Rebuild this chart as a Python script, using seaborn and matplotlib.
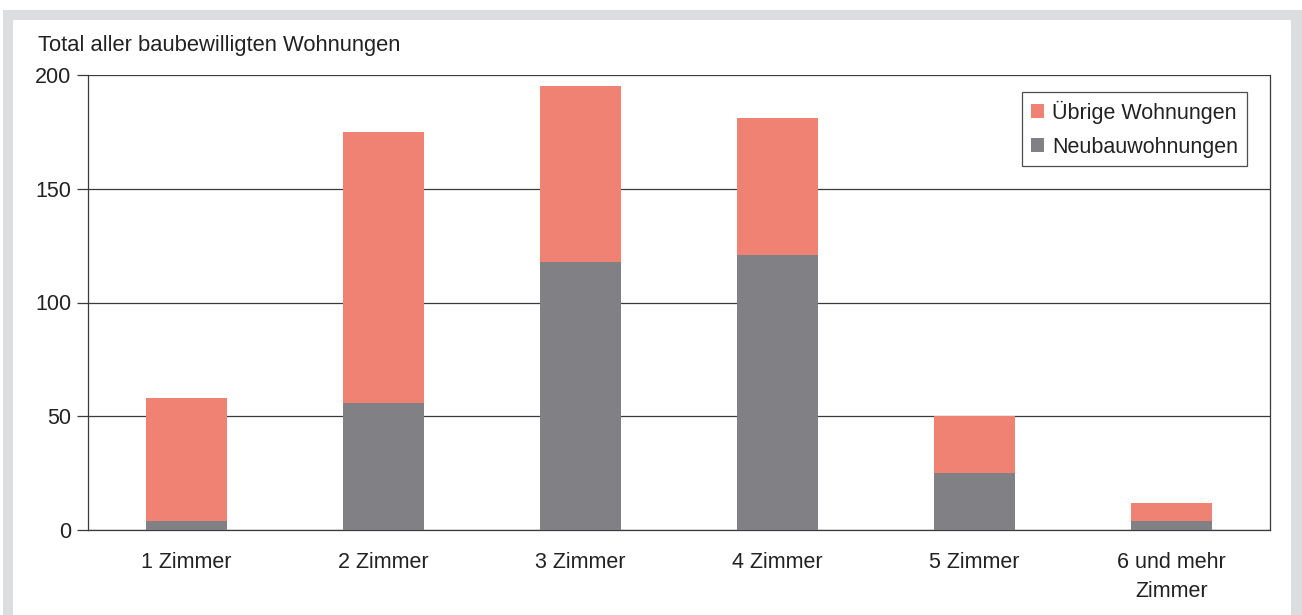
import matplotlib
matplotlib.use("Agg")
import matplotlib.pyplot as plt
import seaborn as sns
import pandas as pd
from matplotlib.patches import Rectangle

categories = ["1 Zimmer", "2 Zimmer", "3 Zimmer", "4 Zimmer", "5 Zimmer", "6 und mehr\nZimmer"]
neubau = [4, 56, 118, 121, 25, 4]
uebrige = [54, 119, 77, 60, 25, 8]
yticks = [0, 50, 100, 150, 200]

totals = [n + u for n, u in zip(neubau, uebrige)]
df = pd.DataFrame({"cat": categories, "neubau": neubau, "total": totals})

sns.set_style("white")
plt.rcParams["font.family"] = ["Liberation Sans", "DejaVu Sans"]

FS = 15.5
W, H = 1302, 615
fig = plt.figure(figsize=(W / 100, H / 100), dpi=100)
fig.patch.set_facecolor("white")
# grey frame
fig.patches.append(Rectangle((3 / W, 0), (W - 3) / W, 1 - 10 / H, transform=fig.transFigure,
                             facecolor="#dcdddf", edgecolor="none", zorder=-20))
fig.patches.append(Rectangle((13 / W, 0), (1291 - 13) / W, 1 - 20 / H, transform=fig.transFigure,
                             facecolor="white", edgecolor="none", zorder=-19))

ax = fig.add_axes([88 / W, 1 - 530 / H, (1270 - 88) / W, (530 - 75) / H])
ax.set_zorder(5)
ax.set_facecolor("white")

c_ueb = "#ef8272"
c_neu = "#818185"
sns.barplot(data=df, x="cat", y="total", color=c_ueb, saturation=1, width=0.41, ax=ax,
            label="Übrige Wohnungen", zorder=3, linewidth=0)
sns.barplot(data=df, x="cat", y="neubau", color=c_neu, saturation=1, width=0.41, ax=ax,
            label="Neubauwohnungen", zorder=3, linewidth=0)

ax.set_xlim(-0.5, 5.5)
ax.set_ylim(0, 200)
ax.set_yticks(yticks)
ax.yaxis.grid(True, color="#3a3a3a", linewidth=0.9, zorder=1)
ax.set_axisbelow(True)
for s in ["top", "right", "left", "bottom"]:
    ax.spines[s].set_visible(True)
    ax.spines[s].set_color("#3a3a3a")
    ax.spines[s].set_linewidth(0.9)
ax.spines["top"].set_visible(False)

ax.set_xticks(range(len(categories)))
ax.set_xticklabels(categories, fontsize=FS, color="#222222", linespacing=1.5)
ax.set_xticks([i - 0.5 for i in range(len(categories) + 1)], minor=True)
ax.tick_params(axis="x", which="major", length=0, pad=16)
ax.tick_params(axis="x", which="minor", length=8, width=0.9, color="#3a3a3a", direction="out")
ax.tick_params(axis="y", which="major", length=8, width=0.9, color="#3a3a3a", direction="out",
               labelsize=FS, labelcolor="#222222", pad=4, left=True)
ax.set_xlabel("")
ax.set_ylabel("")

fig.text(38 / W, 1 - 45 / H, "Total aller baubewilligten Wohnungen", fontsize=15.8,
         color="#222222", va="center", ha="left")

leg = ax.legend(loc="upper right", bbox_to_anchor=(0.9805, 0.9626), fontsize=FS, frameon=True,
                fancybox=False, edgecolor="#222222", handlelength=0.6, handleheight=0.6,
                handletextpad=0.4, borderpad=0.4, labelspacing=0.6, borderaxespad=0)
leg.get_frame().set_linewidth(0.9)
for t in leg.get_texts():
    t.set_color("#222222")

fig.savefig("out.png", dpi=100, facecolor="white")
